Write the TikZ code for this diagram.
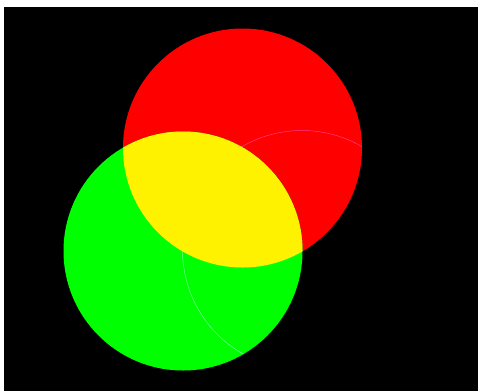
\documentclass[tikz,border=0pt]{standalone}
\begin{document}
\begin{tikzpicture}[x=1pt,y=-1pt]
\useasboundingbox (0,0) rectangle (478,391);
\fill[white] (0,0) rectangle (478,391);
\fill[black] (4,7) rectangle (478,391);
\def\rr{119.5}
\coordinate (R) at (242.5,148);
\coordinate (G) at (183,251);
\coordinate (B) at (302,250);
% red disc
\fill[red] (R) circle (\rr);
\begin{scope}
  \clip (R) circle (\rr);
  \draw[line width=0.5pt, color={rgb,255:red,255;green,60;blue,140}] (B) circle (\rr);
\end{scope}
% green disc
\fill[green] (G) circle (\rr);
\begin{scope}
  \clip (G) circle (\rr);
  \draw[line width=0.5pt, color={rgb,255:red,120;green,255;blue,160}] (B) circle (\rr);
\end{scope}
% yellow overlap
\begin{scope}
  \clip (R) circle (\rr);
  \fill[yellow] (G) circle (\rr);
\end{scope}
\end{tikzpicture}
\end{document}
